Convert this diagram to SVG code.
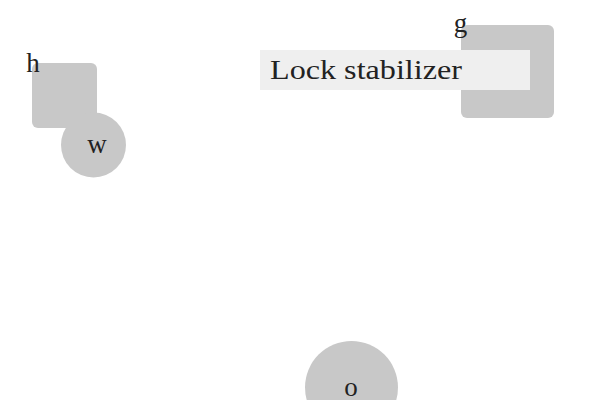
<svg xmlns="http://www.w3.org/2000/svg" width="600" height="400" viewBox="0 0 600 400">
<style>
.shape{fill:#c8c8c8;stroke:none}
.lbl{font-family:"Liberation Serif","DejaVu Serif",serif;font-size:27px;fill:#222;text-anchor:middle}
.tag{fill:#efefef;stroke:none}
</style>
<rect width="600" height="400" fill="#ffffff"/>
<g id="connectors"></g>
<g id="node-h">
<rect class="shape" x="32" y="63" width="65" height="65" rx="6"/>
<text class="lbl" x="33" y="72">h</text>
</g>
<g id="node-w">
<circle class="shape" cx="93.5" cy="145" r="32.5"/>
<text class="lbl" x="97" y="153">w</text>
</g>
<g id="node-g">
<rect class="shape" x="461" y="25" width="93" height="93" rx="6"/>
<text class="lbl" x="460.5" y="32">g</text>
</g>
<g id="label-lock">
<rect class="tag" x="260" y="50" width="270" height="40"/>
<text class="lbl" x="270" y="78.5" style="text-anchor:start;font-size:28px" textLength="192" lengthAdjust="spacingAndGlyphs">Lock stabilizer</text>
</g>
<g id="node-o">
<circle class="shape" cx="351.5" cy="387.5" r="46.5"/>
<text class="lbl" x="351" y="396">o</text>
</g>
</svg>
